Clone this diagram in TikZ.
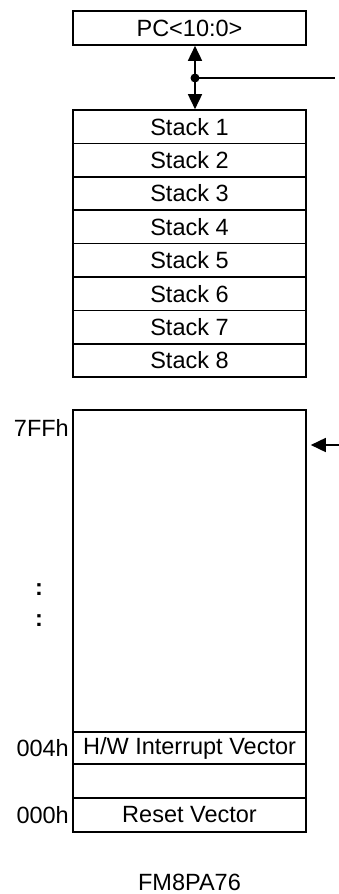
\documentclass[tikz,border=0pt]{standalone}
\usepackage{fontspec}
\setmainfont{Liberation Sans}
\usetikzlibrary{arrows.meta,calc}
\begin{document}
\begin{tikzpicture}[x=1pt,y=-1pt,
  font=\fontsize{23.5}{28}\selectfont,
  box/.style={draw,line width=1.6pt,minimum width=233pt,inner sep=0pt,anchor=center},
  lbl/.style={inner sep=0pt,anchor=east},
  arr/.style={line width=1.6pt,-{Triangle[length=15pt,width=14pt]}}]
\useasboundingbox (0,0) rectangle (339,894);
\node[box,minimum height=34pt] (pc) at (189.5,28) {PC<10:0>};
\foreach \i in {1,...,8}{
  \node[box,minimum height=33.4pt] (s\i) at (189.5,{110+33.4*(\i-0.5)}) {Stack \i};
}
\node[box,minimum height=422pt] (mem) at (189.5,621) {};
\node[box,minimum height=32pt] (hw) at (189.5,748) {H/W Interrupt Vector};
\node[box,minimum height=34pt] (gap) at (189.5,781) {};
\node[box,minimum height=34pt] (rv) at (189.5,815) {Reset Vector};
\node[lbl] (l7) at (69,428) {7FFh};
\node[lbl] (l4) at (69,748) {004h};
\node[lbl] (l0) at (69,815) {000h};
\node[inner sep=0pt] (d1) at (39,590) {\bfseries :};
\node[inner sep=0pt] (d2) at (39,621) {\bfseries :};
\node[inner sep=0pt] (cap) at (189.5,882) {FM8PA76};
\coordinate (j) at (195,78);
\coordinate (e) at (335,78);
\draw[arr] (j) -- (j |- pc.south);
\draw[arr] (j) -- (j |- s1.north);
\draw[line width=1.6pt] (j) -- (e);
\fill (j) circle (4.5pt);
\coordinate (m) at (339,445);
\draw[arr,shorten >=4pt] (m) -- (m -| mem.east);
\end{tikzpicture}
\end{document}
